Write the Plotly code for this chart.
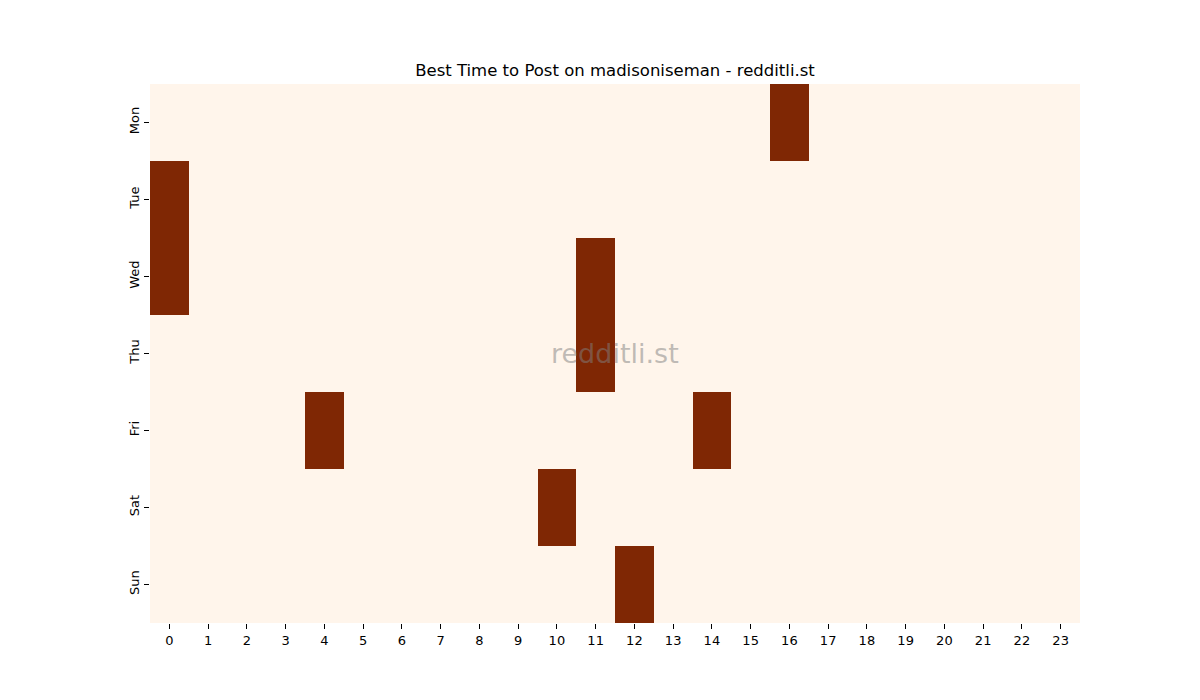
import plotly.graph_objects as go

days = ["Mon", "Tue", "Wed", "Thu", "Fri", "Sat", "Sun"]
hours = list(range(24))
# best-time flags (1 = best) per day, by hour
best_hours = {
    "Mon": [16],
    "Tue": [0],
    "Wed": [0, 11],
    "Thu": [11],
    "Fri": [4, 14],
    "Sat": [10],
    "Sun": [12],
}
z = [[1 if h in best_hours[d] else 0 for h in hours] for d in days]

fig = go.Figure(go.Heatmap(
    z=z, x=hours, y=days,
    colorscale=[[0, "#fff5eb"], [1, "#7f2704"]],
    showscale=False, zmin=0, zmax=1, hoverongaps=False,
))

fig.add_annotation(
    x=11.5, y=3, xref="x", yref="y", text="redditli.st", showarrow=False,
    font=dict(size=27, color="rgba(128,128,128,0.5)", family="DejaVu Sans"),
)

fig.update_layout(
    width=1200, height=700,
    margin=dict(l=150, r=120, t=84, b=77),
    paper_bgcolor="white", plot_bgcolor="white",
    font=dict(family="DejaVu Sans", size=13, color="black"),
    title=dict(text="Best Time to Post on madisoniseman - redditli.st",
               xref="paper", x=0.5, xanchor="center",
               y=1 - 70 / 700, yanchor="middle",
               font=dict(size=16.5, color="black")),
)
fig.update_xaxes(
    tickmode="array", tickvals=hours, ticktext=[str(h) for h in hours],
    ticks="outside", ticklen=5, tickcolor="black", showgrid=False,
    zeroline=False, showline=False, range=[-0.5, 23.5],
)
fig.update_yaxes(
    autorange="reversed", ticks="outside", ticklen=5, tickcolor="black",
    tickangle=-90, showgrid=False, zeroline=False, showline=False,
)

fig.write_html("out.html")
